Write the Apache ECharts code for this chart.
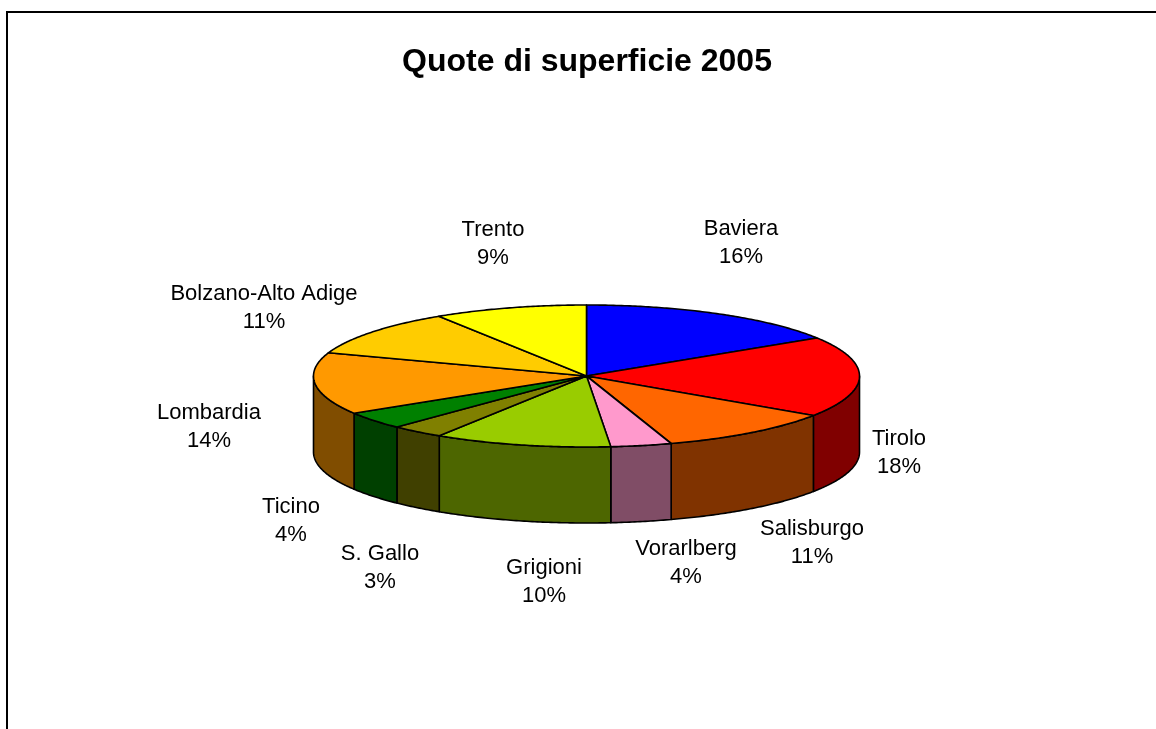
<!DOCTYPE html>
<html>
<head>
<meta charset="utf-8">
<title>Quote di superficie 2005</title>
<style>
html, body { margin: 0; padding: 0; background: #fff; }
#chart { width: 1156px; height: 729px; }
</style>
<script src="https://cdn.jsdelivr.net/npm/echarts@6/dist/echarts.min.js"></script>
</head>
<body>
<div id="chart"></div>
<script>
// shares, clockwise from 12 o'clock
var categories = ['Baviera', 'Tirolo', 'Salisburgo', 'Vorarlberg', 'Grigioni', 'S. Gallo', 'Ticino', 'Lombardia', 'Bolzano-Alto Adige', 'Trento'];
var shares = [16, 18.4, 10.6, 3.6, 10.49, 3.15, 4, 14.1, 10.6, 9.1];
var topColors = ['#0000ff', '#ff0000', '#ff6600', '#ff99cc', '#99cc00', '#808000', '#008000', '#ff9900', '#ffcc00', '#ffff00'];
var sideColors = ['#000080', '#800000', '#803300', '#804d66', '#4d6600', '#404000', '#004000', '#804d00', '#806600', '#808000'];
var labelCenters = [[741, 243], [899, 453], [812, 543], [686, 563], [544, 582], [380, 568], [291, 521], [209, 427], [264, 308], [493, 244]];

var pieCx = 586.5, pieCy = 376, pieRx = 273, pieRy = 71, pieDepth = 76;

var total = shares.reduce(function (a, b) { return a + b; }, 0);
var slices = [];
var cum = 0;
shares.forEach(function (v, i) {
    var start = cum / total * Math.PI * 2;
    cum += v;
    slices.push({ start: start, end: cum / total * Math.PI * 2, pct: Math.round(v / total * 100), index: i });
});

function rimPoint(a, dy) {
    return [pieCx + pieRx * Math.sin(a), pieCy - pieRy * Math.cos(a) + (dy || 0)];
}
function arcPoints(a0, a1, dy) {
    var n = Math.max(2, Math.ceil((a1 - a0) / 0.01));
    var pts = [];
    for (var k = 0; k <= n; k++) {
        pts.push(rimPoint(a0 + (a1 - a0) * k / n, dy));
    }
    return pts;
}

var lineStyle = { stroke: '#000', lineWidth: 1.6, lineJoin: 'round' };

function wallShape(s) {
    // only the front half of the cake shows a wall
    var a0 = Math.max(s.start, Math.PI / 2);
    var a1 = Math.min(s.end, Math.PI * 1.5);
    if (a1 <= a0) return null;
    var pts = arcPoints(a0, a1, 0).concat(arcPoints(a0, a1, pieDepth).reverse());
    return {
        type: 'polygon',
        shape: { points: pts },
        style: Object.assign({ fill: sideColors[s.index] }, lineStyle)
    };
}

function topShape(s) {
    var pts = [[pieCx, pieCy]].concat(arcPoints(s.start, s.end, 0));
    return {
        type: 'polygon',
        shape: { points: pts },
        style: Object.assign({ fill: topColors[s.index] }, lineStyle)
    };
}

function renderPie(params, api) {
    var children = [];
    slices.forEach(function (s) {
        var w = wallShape(s);
        if (w) children.push(w);
    });
    slices.forEach(function (s) {
        children.push(topShape(s));
    });
    slices.forEach(function (s) {
        children.push({
            type: 'text',
            style: {
                x: labelCenters[s.index][0],
                y: labelCenters[s.index][1],
                text: categories[s.index] + '\n' + s.pct + '%',
                fill: '#000',
                font: '22px "Liberation Sans", Arial, sans-serif',
                lineHeight: 28,
                align: 'center',
                verticalAlign: 'middle'
            }
        });
    });
    return { type: 'group', children: children };
}

var charts = echarts.init(document.getElementById('chart'), null, { renderer: 'canvas' });
var option = {
    backgroundColor: '#fff',
    animation: false,
    title: {
        text: 'Quote di superficie 2005',
        left: 582,
        top: 41,
        textAlign: 'center',
        textStyle: { color: '#000', fontFamily: '"Liberation Sans", Arial, sans-serif', fontWeight: 'bold', fontSize: 32 }
    },
    graphic: [{
        type: 'polyline',
        shape: { points: [[7, 729], [7, 12], [1156, 12]] },
        style: { stroke: '#000', lineWidth: 2, fill: null }
    }],
    series: [{
        type: 'custom',
        coordinateSystem: 'none',
        data: shares,
        renderItem: function (params, api) {
            if (params.dataIndex !== 0) return null;
            return renderPie(params, api);
        }
    }]
};
charts.setOption(option);
</script>
</body>
</html>
